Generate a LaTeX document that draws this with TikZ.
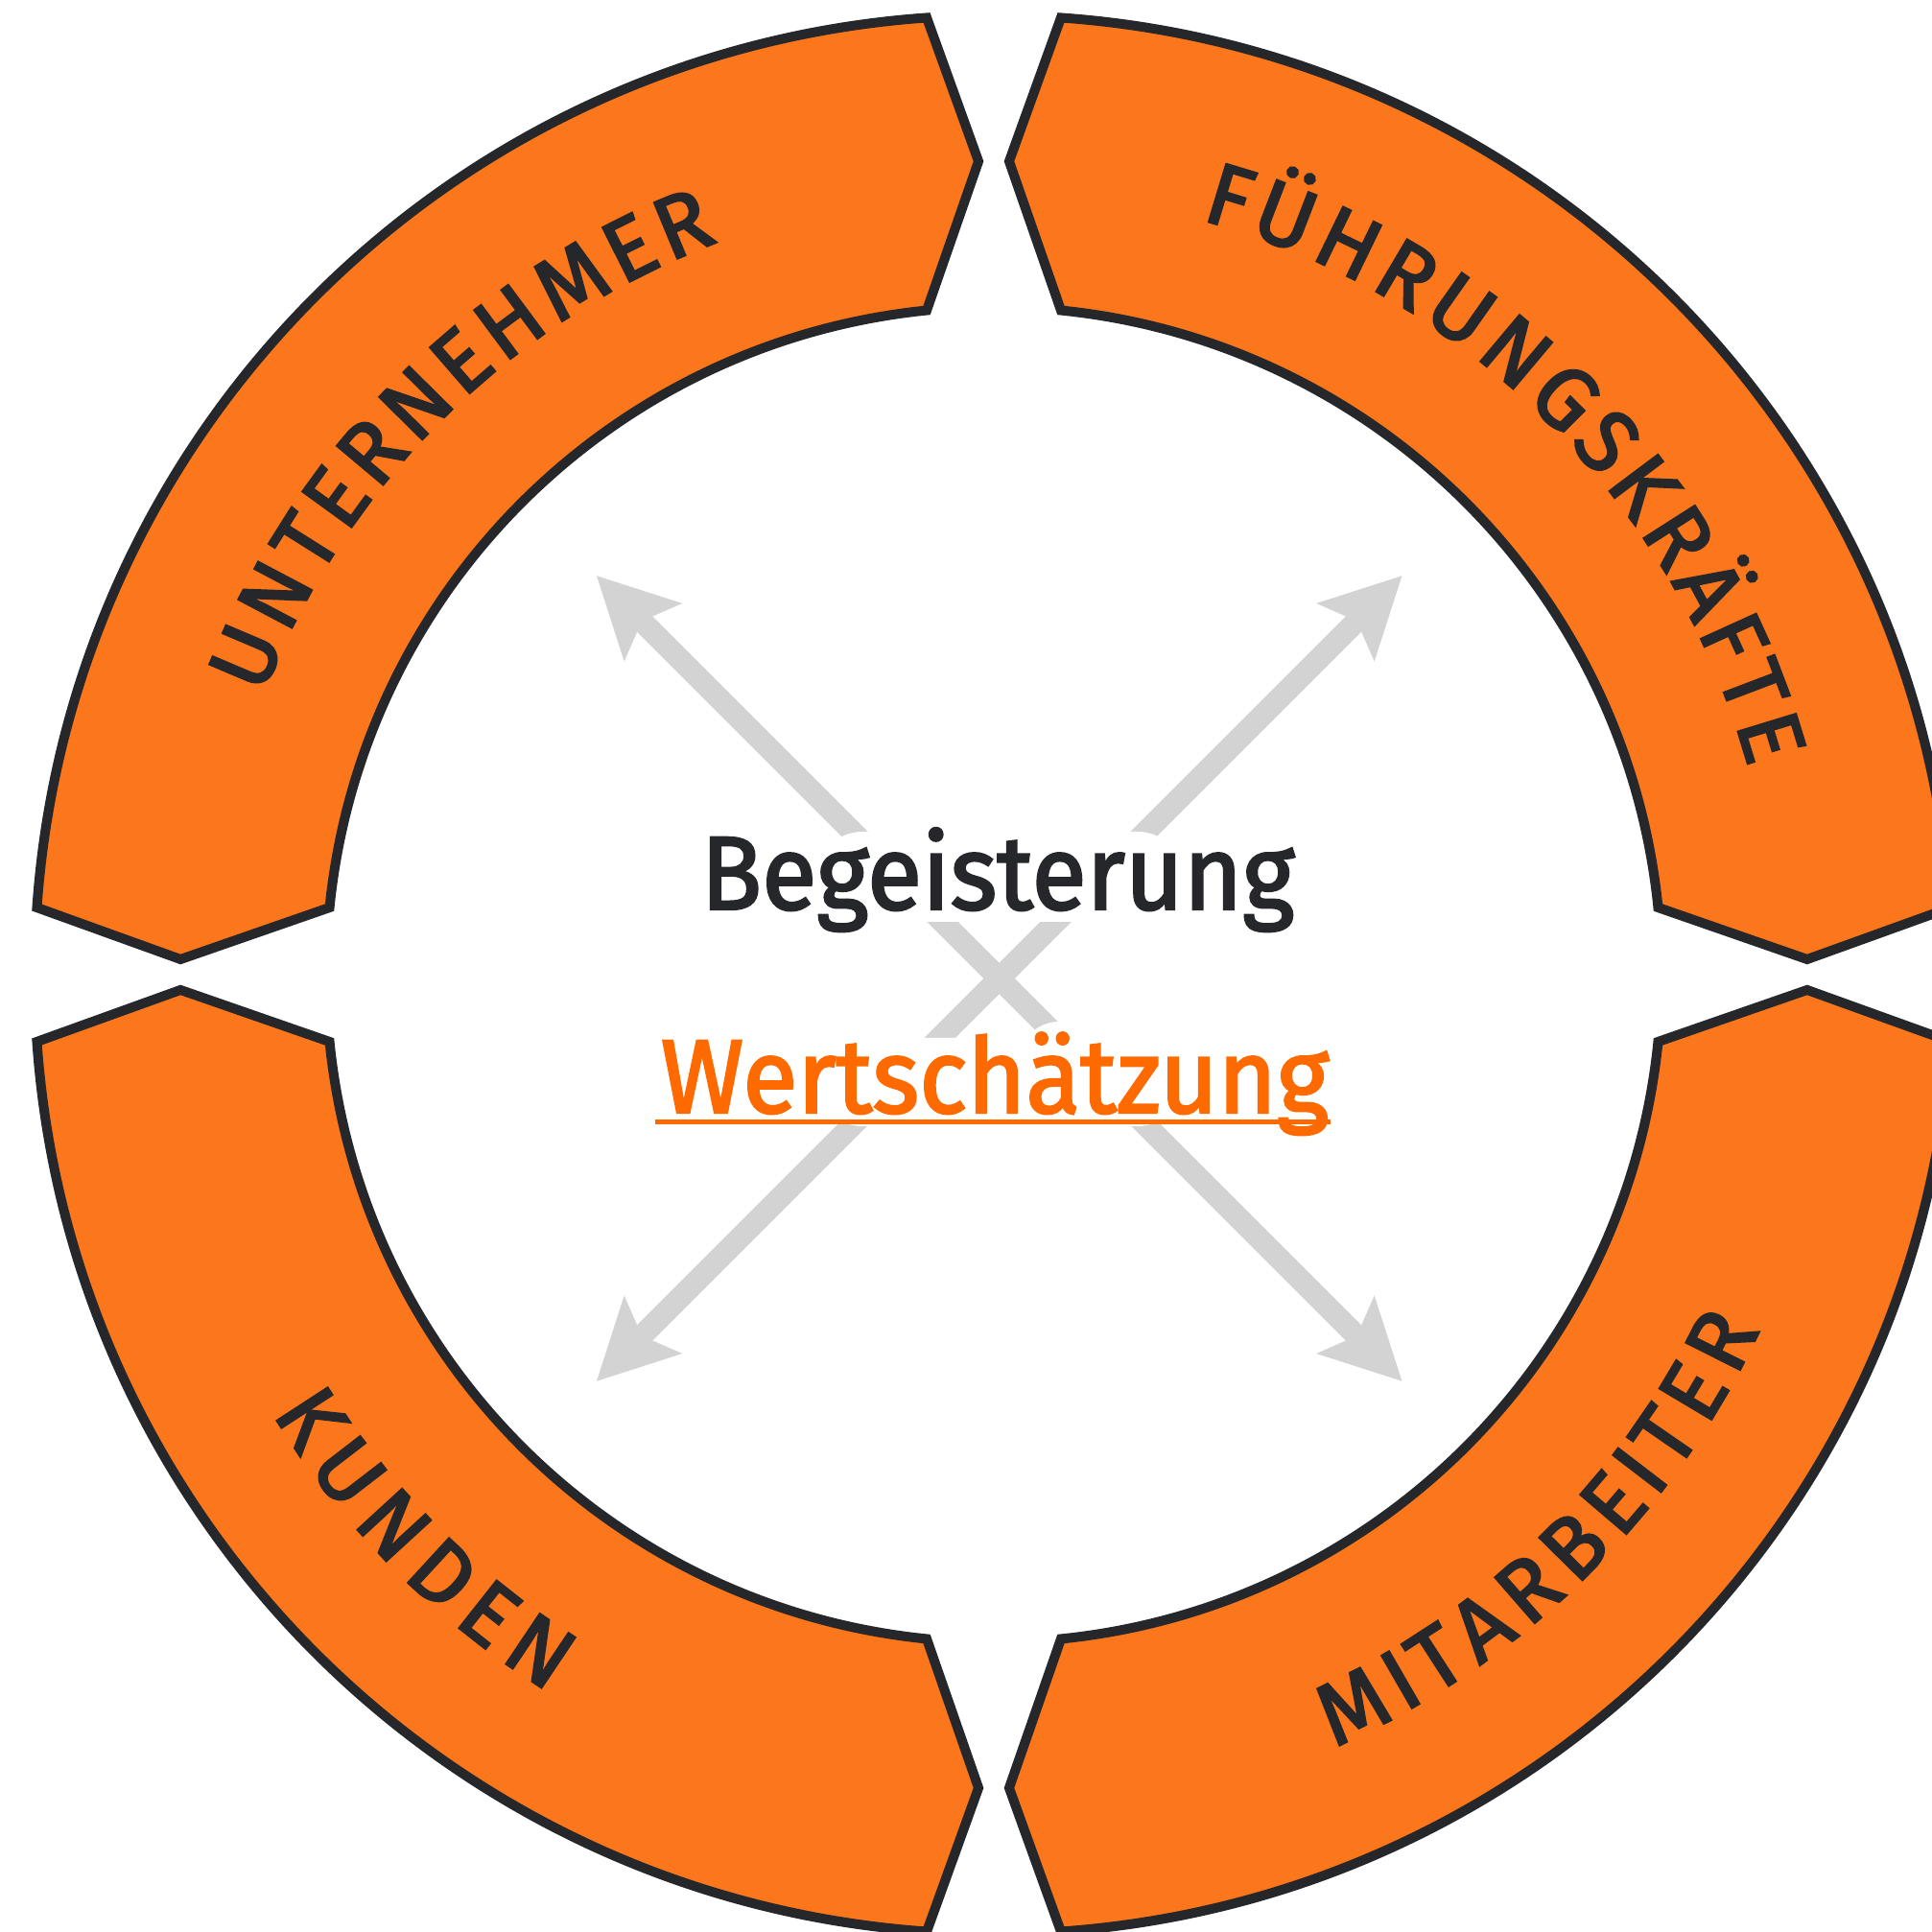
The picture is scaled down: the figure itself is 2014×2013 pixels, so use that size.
\documentclass[tikz,border=0pt]{standalone}
\usepackage{fontspec}
\setmainfont{Fira Sans}
\newfontfamily\ringfam{Fira Sans}[FakeBold=2.6]
\newfontfamily\bigfam{Fira Sans}[FakeBold=2.2]
\usepackage{graphicx}
\usetikzlibrary{arrows.meta,decorations.text}
\definecolor{ringfill}{RGB}{252,118,27}
\definecolor{darkc}{RGB}{37,39,42}
\definecolor{wertc}{RGB}{255,106,0}
\definecolor{arrowc}{RGB}{211,211,211}
\newcommand{\ringfont}{\ringfam\fontsize{26}{26}\selectfont}
\newcommand{\bigfont}{\bigfam\fontsize{31}{31}\selectfont}
\begin{document}
\begin{tikzpicture}[x=0.1mm,y=0.1mm,
  seg/.style={fill=ringfill, draw=darkc, line width=1mm, line join=miter},
  garrow/.style={draw=arrowc, line width=2.3mm, -{Stealth[length=8.2mm,width=8.2mm,inset=1.5mm]}},
  ringtext/.style={decorate, decoration={text effects along path, text={#1},
     text effects/.cd, text along path, fit text to path,
     characters={text=darkc, font=\ringfont}}},
  bigword/.style={anchor=base, inner sep=0pt, font=\bigfont},
  knockout/.style={fill=white, draw=none}
]
\useasboundingbox (0,0) rectangle (2014,2013);
\clip (0,0) rectangle (2014,2013);

% ring segments
\begin{scope}[shift={(1036,997)}]
  \foreach \a in {0,90,180,270} {
    \draw[seg] (\a+4.01:1000) arc[start angle=\a+4.01, end angle=\a+85.99, radius=1000]
      -- (\a+88.92:848) -- (\a+84.23:696)
      arc[start angle=\a+84.23, end angle=\a+5.77, radius=696]
      -- (\a+1.08:848) -- cycle;
  }
  \path[ringtext={UNTERNEHMER}] (159.1:816) arc[start angle=159.1, end angle=110.6, radius=816];
  \path[ringtext={FÜHRUNGSKRÄFTE}] (74.7:816) arc[start angle=74.7, end angle=15.3, radius=816];
  \path[ringtext={MITARBEITER}] (-66.2:880) arc[start angle=-66.2, end angle=-24.9, radius=880];
  \path[ringtext={KUNDEN}] (211.3:880) arc[start angle=211.3, end angle=238.2, radius=880];
\end{scope}

% arrows
\coordinate (A) at (1041.7,993);
\coordinate (tl) at (621.7,1413);
\coordinate (tr) at (1461.7,1413);
\coordinate (bl) at (621.7,573);
\coordinate (br) at (1461.7,573);
\draw[garrow] (A) -- (tl);
\draw[garrow] (A) -- (tr);
\draw[garrow] (A) -- (bl);
\draw[garrow] (A) -- (br);

% white knock-out areas behind the words
\path[knockout, rounded corners=14] (850,1052) rectangle (1235,1146);
\path[knockout, rounded corners=14] (850,839) rectangle (1235,931);
\path[knockout, rounded corners=12] (1062,900) rectangle (1142,948);

% texts
\node[bigword, text=darkc] (begeist) at (1040,1065) {\scalebox{0.96}[1]{Begeisterung}};
\node[bigword, text=wertc] (wert) at (1037,853) {\scalebox{0.96}[1]{Wertschätzung}};
\coordinate (ulA) at (683,843);
\coordinate (ulB) at (1387,843);
\draw[wertc, line width=0.5mm] (ulA) -- (ulB);
\end{tikzpicture}
\end{document}
